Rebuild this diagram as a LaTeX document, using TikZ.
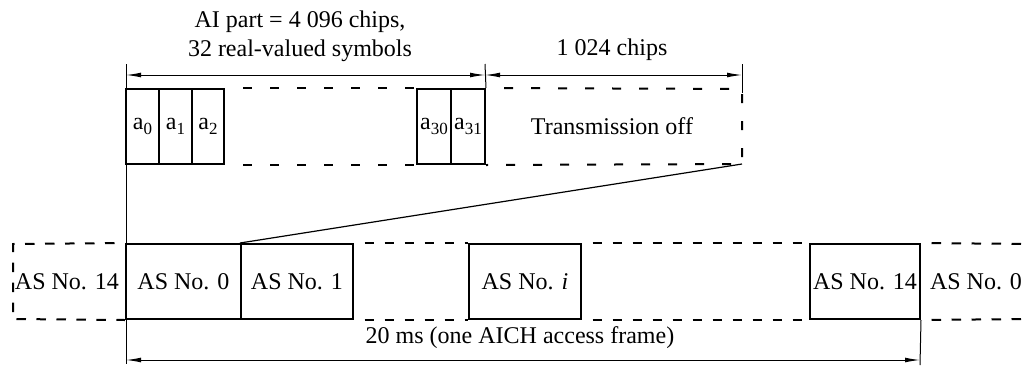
\documentclass[tikz,border=0pt]{standalone}
\usepackage{fontspec}
\setmainfont{Liberation Serif}
\usetikzlibrary{arrows.meta}
\newcommand\subidx[1]{\raisebox{-2.5pt}{\fontsize{8.5}{9}\selectfont #1}}
\begin{document}
\begin{tikzpicture}[x=0.5pt,y=-0.5pt,
  font=\fontsize{12}{14.5}\selectfont,
  cell/.style={draw, line width=1pt, inner sep=0pt, minimum height=37.5pt},
  dshT/.style={line width=1pt, dash pattern=on 4.5pt off 9pt, dash phase=4.5pt},
  dshB/.style={line width=1pt, dash pattern=on 4.75pt off 5.25pt, dash phase=4.75pt},
  dim/.style={line width=0.5pt},
  dimarrow/.style={line width=0.5pt, {Latex[length=7.5pt,width=2.4pt]}-{Latex[length=7.5pt,width=2.4pt]}},
  lbl/.style={inner sep=0pt, align=center}]
\useasboundingbox (0,0) rectangle (1029,365);

% top row cells
\node[cell, minimum width=16.5pt] (a0) at (142.5,126.5) {a\subidx{0}};
\node[cell, minimum width=16.5pt] (a1) at (175.5,126.5) {a\subidx{1}};
\node[cell, minimum width=16pt]   (a2) at (208,126.5) {a\subidx{2}};
\node[cell, minimum width=17pt]   (a30) at (434,126.5) {a\subidx{30}};
\node[cell, minimum width=17pt]   (a31) at (468,126.5) {a\subidx{31}};
\coordinate (tne) at (742,89);
\coordinate (tse) at (742,164);
\node[lbl] (toff) at (612,126.5) {Transmission off};

\draw[dshT] (a2.north east) -- (a30.north west);
\draw[dshT] (a2.south east) -- (a30.south west);
\draw[dshT] (a31.north east) -- (tne) -- (tse) -- (a31.south east);

% bottom row cells
\node[cell, minimum width=57.5pt] (as0) at (183.5,281.5) {AS No. 0};
\node[cell, minimum width=56pt]   (as1) at (297,281.5) {AS No. 1};
\node[cell, minimum width=56pt]   (asi) at (525,281.5) {AS No. \textit{i}};
\node[cell, minimum width=55pt]   (as14) at (865,281.5) {AS No. 14};
\coordinate (lnw) at (13,244);
\coordinate (lsw) at (13,319);
\coordinate (rne) at (1029,244);
\coordinate (rse) at (1029,319);
\node[lbl] (asl) at (67,281.5) {AS No. 14};
\node[lbl] (asr) at (976,281.5) {AS No. 0};

\draw[dshB] (as0.north west) -- (lnw) -- (lsw) -- (as0.south west);
\draw[dshB] (as1.north east) -- (asi.north west);
\draw[dshB] (as1.south east) -- (asi.south west);
\draw[dshB] (asi.north east) -- (as14.north west);
\draw[dshB] (asi.south east) -- (as14.south west);
\draw[dshB] (as14.north east) -- (rne);
\draw[dshB] (as14.south east) -- (rse);

% expansion line
\draw[line width=0.6pt] (as1.north west) -- (tse);

% dimension lines
\coordinate (t1top) at (126,64);
\coordinate (t1bot) at (126,364);
\coordinate (t2top) at (485,64);
\coordinate (t3top) at (742,64);
\coordinate (t3bot) at (742,93);
\coordinate (d1) at (126,75);
\coordinate (d2) at (485,75);
\coordinate (d3) at (742,75);
\coordinate (t4bot) at (920,365);
\coordinate (d4) at (126,360);
\coordinate (d5) at (920,360);
\draw[dim] (t1top) -- (t1bot);
\draw[dim] (t2top) -- (a31.north east);
\draw[dim] (t3top) -- (t3bot);
\draw[dim] (as14.south east) -- (t4bot);
\draw[dimarrow] (d1) -- (d2);
\draw[dimarrow] (d2) -- (d3);
\draw[dimarrow] (d4) -- (d5);

\node[lbl] (ai) at (300,36) {AI part = 4 096 chips,\\32 real-valued symbols};
\node[lbl] (c1024) at (612,50) {1 024 chips};
\node[lbl] (ms20) at (520,338) {20 ms (one AICH access frame)};
\end{tikzpicture}
\end{document}
